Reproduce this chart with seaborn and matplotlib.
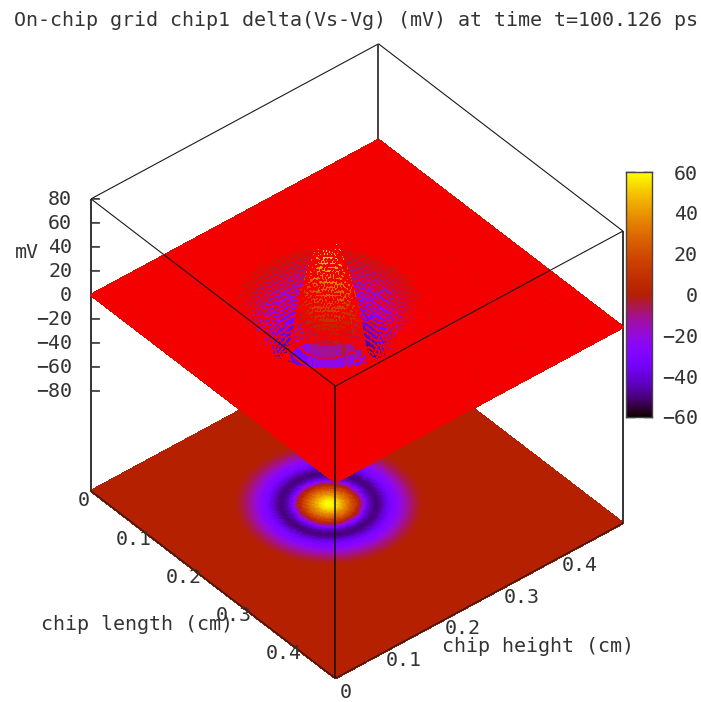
import matplotlib
matplotlib.use("Agg")
import numpy as np
import matplotlib.pyplot as plt
from matplotlib import transforms
from matplotlib.colors import ListedColormap, Normalize
from mpl_toolkits.mplot3d import proj3d
import seaborn as sns

sns.set_style('white')
plt.rcParams['font.family'] = ['DejaVu Sans Mono']
plt.rcParams['text.color'] = '#333333'

# Voltage, ring by ring going out from the hot spot.
# Rings are RING_STEP cm wide, everything further out sits at 0 mV.
ring_mv = [60, 60, 59, 57, 54, 51, 47, 43, 39, 35,
           31, 26, 21, 16, 10, 4, -3, -12, -22, -31,
           -38, -43, -46, -48, -50, -50, -49, -47, -44, -41,
           -38, -35, -33, -30, -28, -26, -24, -21, -19, -16,
           -14, -12, -10, -8, -6, -5, -3, -2, -1, 0]
z_ticks = [80, 60, 40, 20, 0, -20, -40, -60, -80]
cb_ticks = [60, 40, 20, 0, -20, -40, -60]
length_ticks = [0, 0.1, 0.2, 0.3, 0.4]
height_ticks = [0, 0.1, 0.2, 0.3, 0.4]
tick_names = ['0', '0.1', '0.2', '0.3', '0.4']

RING_STEP = 0.0025
CENTRE = 0.218
CHIP = 0.49
ZMIN = -163.3
ZMAX = 80.0
NGRID = 170
FS = 14.4

# gnuplot's default pm3d palette (rgbformulae 7,5,15)
t = np.linspace(0, 1, 256)
pm3d = ListedColormap(np.c_[np.sqrt(t), t ** 3, np.clip(np.sin(2 * np.pi * t), 0, 1)])
norm = Normalize(-60, 60)


def chip_field(n):
    xs = np.linspace(0, CHIP, n)
    x, y = np.meshgrid(xs, xs)
    rings = np.rint(np.hypot(x - CENTRE, y - CENTRE) / RING_STEP).astype(int)
    return x, y, np.array(ring_mv + [0])[np.minimum(rings, len(ring_mv))].astype(float)


fig = plt.figure(figsize=(7.01, 7.02), dpi=100)
ax = fig.add_axes([-3 / 701, -19 / 702, 1, 701 / 702], projection='3d',
                  proj_type='ortho', computed_zorder=False)
ax.view_init(elev=40, azim=-40)
ax.set_box_aspect((380, 375, 381), zoom=0.909)
ax.set_axis_off()


def edge(p0, p1, zorder, lw=0.8, colour='#1a1a1a'):
    ax.plot(*zip(p0, p1), color=colour, lw=lw, zorder=zorder, solid_capstyle='butt')


def label3d(x, y, z, text, dx, dy, **kw):
    # dx, dy are pixels on screen away from the projected point
    tr = transforms.offset_copy(ax.transData, fig=fig, x=dx, y=dy, units='dots')
    px, py, _ = proj3d.proj_transform(x, y, z, ax.get_proj())
    ax.text2D(px, py, text, transform=tr, fontsize=FS, zorder=20, **kw)


# base map, finer than the wire grid so it looks smooth
Xf, Yf, Zf = chip_field(220)
ax.plot_surface(Xf, Yf, np.full_like(Zf, ZMIN), facecolors=pm3d(norm(Zf)), rstride=1, cstride=1,
                shade=False, linewidth=1, antialiased=False, zorder=1)

# box parts behind the surface
edge((0, 0, ZMAX), (0, CHIP, ZMAX), 2)
edge((0, CHIP, ZMAX), (CHIP, CHIP, ZMAX), 2)
edge((0, CHIP, ZMAX), (0, CHIP, ZMIN), 2, lw=1.3, colour='#333333')
edge((0, 0, ZMAX), (0, 0, ZMIN), 2, lw=1.4, colour='#333333')
edge((CHIP, CHIP, ZMAX), (CHIP, CHIP, ZMIN), 2, lw=1.4, colour='#333333')
edge((0, 0, ZMIN), (CHIP, 0, ZMIN), 5)
edge((CHIP, 0, ZMIN), (CHIP, CHIP, ZMIN), 5)
for v in z_ticks:
    # z tick marks point straight right on screen, about 9 px long
    d = 9 / 775
    edge((0, 0, v), (d * np.sin(np.radians(40)), d * np.cos(np.radians(40)), v), 3,
         lw=1.2, colour='#333333')

# surface at its true height: pm3d colours with a red dot on every grid node,
# the dots only leave gaps where the surface is stretched on screen
X, Y, Z = chip_field(NGRID)
ax.plot_surface(X, Y, Z, facecolors=pm3d(norm(Z)), rstride=1, cstride=1,
                shade=False, linewidth=1, antialiased=False, zorder=6)
ax.scatter(X.ravel(), Y.ravel(), Z.ravel(), s=1.6, c='#f50000', marker='s', linewidths=0,
           depthshade=False, antialiased=False, zorder=7)

# box parts in front of the surface
edge((0, 0, ZMAX), (CHIP, 0, ZMAX), 10)
edge((CHIP, 0, ZMAX), (CHIP, CHIP, ZMAX), 10)
edge((CHIP, 0, ZMAX), (CHIP, 0, ZMIN), 10, lw=1.1, colour='#111111')

ax.set_xlim(0, CHIP)
ax.set_ylim(0, CHIP)
ax.set_zlim(ZMIN, ZMAX)

for v in z_ticks:
    label3d(0, 0, v, str(v).replace('-', '\u2212'), -19, -1, ha='right', va='center')
for v, name in zip(length_ticks, tick_names):
    label3d(v, 0, ZMIN, name, -7, -10, ha='center', va='center')
for v, name in zip(height_ticks, tick_names):
    label3d(CHIP, v, ZMIN, name, 10, -14, ha='center', va='center')

fig.text(356 / 701, 1 - 20 / 702, 'On-chip grid chip1 delta(Vs-Vg) (mV) at time t=100.126 ps',
         ha='center', va='center', fontsize=FS)
fig.text(27 / 701, 1 - 252 / 702, 'mV', ha='center', va='center', fontsize=FS)
fig.text(137 / 701, 1 - 624 / 702, 'chip length (cm)', ha='center', va='center', fontsize=FS)
fig.text(538 / 701, 1 - 646 / 702, 'chip height (cm)', ha='center', va='center', fontsize=FS)

# colour box
cax = fig.add_axes([626 / 701, 1 - 417 / 702, 26 / 701, 245 / 702])
levels = np.linspace(60, -60, 241)[:, None]
sns.heatmap(levels, cmap=pm3d, vmin=-60, vmax=60, cbar=False, ax=cax,
            xticklabels=False, yticklabels=False)
for spine in cax.spines.values():
    spine.set_visible(True)
    spine.set_color('#444444')
    spine.set_linewidth(1.0)
cax.set_yticks([(60 - v) / 120 * levels.shape[0] for v in cb_ticks])
cax.set_yticklabels([str(v).replace('-', '\u2212') for v in cb_ticks], fontsize=FS,
                    color='#333333', rotation=0, ha='right')
cax.tick_params(axis='y', direction='in', left=True, right=True, labelleft=False,
                labelright=True, length=6.5, width=1, pad=33, color='black')

fig.savefig('out.png', dpi=100)
